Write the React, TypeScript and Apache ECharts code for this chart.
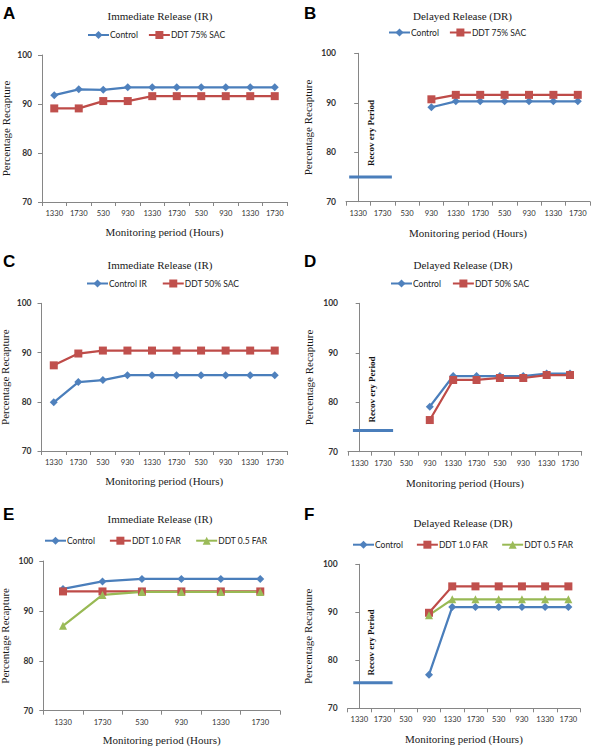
import { useEffect, useRef } from "react";
import * as echarts from "echarts";

// ---------- data ----------
const catsTen = ["1330", "1730", "530", "930", "1330", "1730", "530", "930", "1330", "1730"];
const catsSix = ["1330", "1730", "530", "930", "1330", "1730"];

const titleIR = "Immediate Release (IR)";
const titleDR = "Delayed Release (DR)";
const xName = "Monitoring period (Hours)";
const yName = "Percentage Recapture";
const recoveryText = "Recov ery Period";

// Panel A
const controlA = [91.8, 93.0, 92.9, 93.4, 93.4, 93.4, 93.4, 93.4, 93.4, 93.4];
const ddt75A = [89.1, 89.1, 90.6, 90.6, 91.6, 91.6, 91.6, 91.6, 91.6, 91.6];
// Panel B
const controlB = [null, null, null, 89.1, 90.3, 90.3, 90.3, 90.3, 90.3, 90.3];
const ddt75B = [null, null, null, 90.7, 91.6, 91.6, 91.6, 91.6, 91.6, 91.6];
const recoveryB = 75.0;
const recoverySpanB = [-0.37, 1.38];
// Panel C
const controlC = [79.9, 84.0, 84.4, 85.4, 85.4, 85.4, 85.4, 85.4, 85.4, 85.4];
const ddt50C = [87.4, 89.8, 90.4, 90.4, 90.4, 90.4, 90.4, 90.4, 90.4, 90.4];
// Panel D
const controlD = [null, null, null, 79.1, 85.3, 85.3, 85.3, 85.3, 85.8, 85.8];
const ddt50D = [null, null, null, 76.4, 84.5, 84.5, 84.9, 84.9, 85.5, 85.5];
const recoveryD = 74.3;
const recoverySpanD = [-0.29, 1.43];
// Panel E
const controlE = [94.4, 95.9, 96.4, 96.4, 96.4, 96.4];
const ddt10E = [93.9, 93.9, 93.9, 93.9, 93.9, 93.9];
const ddt05E = [87.0, 93.2, 93.8, 93.8, 93.8, 93.8];
// Panel F
const controlF = [null, null, null, 77.0, 91.1, 91.1, 91.1, 91.1, 91.1, 91.1];
const ddt10F = [null, null, null, 89.9, 95.4, 95.4, 95.4, 95.4, 95.4, 95.4];
const ddt05F = [null, null, null, 89.4, 92.7, 92.7, 92.7, 92.7, 92.7, 92.7];
const recoveryF = 75.3;
const recoverySpanF = [-0.26, 1.43];

// ---------- styles ----------
const STYLES: Record<string, any> = {
  blue: { line: "#4A7EBB", fill: "#4F81BD", symbol: "diamond", size: 8 },
  red: { line: "#BE4B48", fill: "#C0504D", symbol: "rect", size: 8 },
  green: { line: "#98B954", fill: "#9BBB59", symbol: "triangle", size: 8 },
};
const AXIS_COLOR = "#868686";
const SERIF = "Liberation Serif";
const SANS = "Lato";

type Panel = {
  letter: string;
  title: string;
  cats: string[];
  grid: { left: number; top: number; width: number; height: number };
  series: { name: string; data: (number | null)[]; kind: string }[];
  recovery?: { value: number; span: number[]; label: [number, number] };
  legend: { left: number; cy: number; gap: number };
  titlePos: [number, number];
  letterPos: [number, number];
  yNameGap: number;
  xNameGap: number;
};

const panels: Panel[] = [
  {
    letter: "A", title: titleIR, cats: catsTen,
    grid: { left: 42, top: 55, width: 245, height: 147 },
    series: [
      { name: "Control", data: controlA, kind: "blue" },
      { name: "DDT 75% SAC", data: ddt75A, kind: "red" },
    ],
    legend: { left: 87, cy: 36, gap: 10 },
    titlePos: [160, 16], letterPos: [3, 13], yNameGap: 31, xNameGap: 24,
  },
  {
    letter: "B", title: titleDR, cats: catsTen,
    grid: { left: 346, top: 53.3, width: 244, height: 148.4 },
    series: [
      { name: "Control", data: controlB, kind: "blue" },
      { name: "DDT 75% SAC", data: ddt75B, kind: "red" },
    ],
    recovery: { value: recoveryB, span: recoverySpanB, label: [371, 133] },
    legend: { left: 388, cy: 33.5, gap: 10 },
    titlePos: [462.5, 16], letterPos: [304, 13], yNameGap: 33, xNameGap: 25.5,
  },
  {
    letter: "C", title: titleIR, cats: catsTen,
    grid: { left: 41.5, top: 303.3, width: 245.5, height: 147.7 },
    series: [
      { name: "Control IR", data: controlC, kind: "blue" },
      { name: "DDT 50% SAC", data: ddt50C, kind: "red" },
    ],
    legend: { left: 86, cy: 284.5, gap: 15 },
    titlePos: [160, 265], letterPos: [3, 261], yNameGap: 31, xNameGap: 24,
  },
  {
    letter: "D", title: titleDR, cats: catsTen,
    grid: { left: 348, top: 303.3, width: 233.7, height: 148.4 },
    series: [
      { name: "Control", data: controlD, kind: "blue" },
      { name: "DDT 50% SAC", data: ddt50D, kind: "red" },
    ],
    recovery: { value: recoveryD, span: recoverySpanD, label: [372, 389.5] },
    legend: { left: 390, cy: 284.5, gap: 11 },
    titlePos: [463, 265], letterPos: [304, 261], yNameGap: 34, xNameGap: 25.5,
  },
  {
    letter: "E", title: titleIR, cats: catsSix,
    grid: { left: 43.3, top: 561, width: 236.7, height: 149.7 },
    series: [
      { name: "Control", data: controlE, kind: "blue" },
      { name: "DDT 1.0 FAR", data: ddt10E, kind: "red" },
      { name: "DDT 0.5 FAR", data: ddt05E, kind: "green" },
    ],
    legend: { left: 44, cy: 541.7, gap: 14 },
    titlePos: [160, 519.3], letterPos: [3, 514], yNameGap: 33, xNameGap: 24,
  },
  {
    letter: "F", title: titleDR, cats: catsTen,
    grid: { left: 347.7, top: 564.3, width: 232.3, height: 144 },
    series: [
      { name: "Control", data: controlF, kind: "blue" },
      { name: "DDT 1.0 FAR", data: ddt10F, kind: "red" },
      { name: "DDT 0.5 FAR", data: ddt05F, kind: "green" },
    ],
    recovery: { value: recoveryF, span: recoverySpanF, label: [371, 642.5] },
    legend: { left: 352, cy: 545.7, gap: 13 },
    titlePos: [463, 522.7], letterPos: [304, 514.5], yNameGap: 34, xNameGap: 25.5,
  },
];

function buildOption() {
  const grid: any[] = [];
  const xAxis: any[] = [];
  const yAxis: any[] = [];
  const series: any[] = [];
  const legend: any[] = [];
  const graphic: any[] = [];

  panels.forEach((p, gi) => {
    grid.push({ ...p.grid, containLabel: false, outerBoundsMode: "none" });
    const catAxisIndex = xAxis.length;
    xAxis.push({
      type: "category",
      gridIndex: gi,
      data: p.cats,
      boundaryGap: true,
      axisLine: { show: true, lineStyle: { color: AXIS_COLOR, width: 1 } },
      axisTick: { show: true, length: 4, interval: 0, lineStyle: { color: AXIS_COLOR } },
      axisLabel: { interval: 0, fontFamily: SANS, fontSize: 7.6, color: "#333", margin: 7 },
      splitLine: { show: false },
      name: xName,
      nameLocation: "middle",
      nameGap: p.xNameGap,
      nameTextStyle: { fontFamily: SERIF, fontSize: 11, fontWeight: "normal", color: "#1a1a1a" },
    });
    yAxis.push({
      type: "value",
      gridIndex: gi,
      min: 70,
      max: 100,
      interval: 10,
      axisLine: { show: true, lineStyle: { color: AXIS_COLOR, width: 1 } },
      axisTick: { show: true, length: 4, lineStyle: { color: AXIS_COLOR } },
      axisLabel: { fontFamily: SANS, fontSize: 8.5, fontWeight: "bold", color: "#333", margin: 10 },
      splitLine: { show: false },
      name: yName,
      nameLocation: "middle",
      nameGap: p.yNameGap,
      nameTextStyle: { fontFamily: SERIF, fontSize: 11, fontWeight: "normal", color: "#1a1a1a" },
    });

    p.series.forEach((s) => {
      const st = STYLES[s.kind];
      series.push({
        type: "line",
        name: s.name,
        xAxisIndex: catAxisIndex,
        yAxisIndex: gi,
        data: s.data,
        symbol: st.symbol,
        symbolSize: st.size,
        showSymbol: true,
        connectNulls: false,
        lineStyle: { color: st.line, width: 2.25 },
        itemStyle: { color: st.fill },
        z: 3,
      });
    });

    if (p.recovery) {
      const hiddenIndex = xAxis.length;
      xAxis.push({
        type: "value",
        gridIndex: gi,
        min: -0.5,
        max: p.cats.length - 0.5,
        show: false,
        splitLine: { show: false },
      });
      series.push({
        type: "line",
        xAxisIndex: hiddenIndex,
        yAxisIndex: gi,
        data: p.recovery.span.map((x) => [x, p.recovery!.value]),
        symbol: "none",
        silent: true,
        lineStyle: { color: "#4A7EBB", width: 3 },
        z: 2,
      });
      graphic.push({
        type: "text",
        x: p.recovery.label[0],
        y: p.recovery.label[1],
        rotation: Math.PI / 2,
        style: {
          text: recoveryText,
          fontFamily: SERIF,
          fontSize: 9,
          fontWeight: "bold",
          fill: "#111",
          align: "center",
          verticalAlign: "middle",
        },
      });
    }

    legend.push({
      left: p.legend.left,
      top: p.legend.cy - 5.5,
      padding: 0,
      itemWidth: 21,
      itemHeight: 10,
      itemGap: p.legend.gap,
      selectedMode: false,
      data: p.series.map((s) => s.name),
      textStyle: { fontFamily: SANS, fontSize: 8.5, color: "#222", padding: [0, 0, 0, -4] },
    });

    graphic.push({
      type: "text",
      x: p.titlePos[0],
      y: p.titlePos[1],
      style: {
        text: p.title,
        fontFamily: SERIF,
        fontSize: 11,
        fontWeight: "normal",
        fill: "#1a1a1a",
        align: "center",
        verticalAlign: "middle",
      },
    });
    graphic.push({
      type: "text",
      x: p.letterPos[0],
      y: p.letterPos[1],
      style: {
        text: p.letter,
        fontFamily: "Liberation Sans",
        fontSize: 17,
        fontWeight: "bold",
        fill: "#000",
        align: "left",
        verticalAlign: "middle",
      },
    });
  });

  return {
    animation: false,
    backgroundColor: "#ffffff",
    grid,
    xAxis,
    yAxis,
    series,
    legend,
    graphic,
  };
}

export default function App() {
  const ref = useRef<HTMLDivElement>(null);
  useEffect(() => {
    document.body.style.margin = "0";
    const chart = echarts.init(ref.current!, null, { renderer: "svg" });
    chart.setOption(buildOption() as any);
    return () => chart.dispose();
  }, []);
  return <div ref={ref} style={{ width: 600, height: 749, background: "#fff" }} />;
}
